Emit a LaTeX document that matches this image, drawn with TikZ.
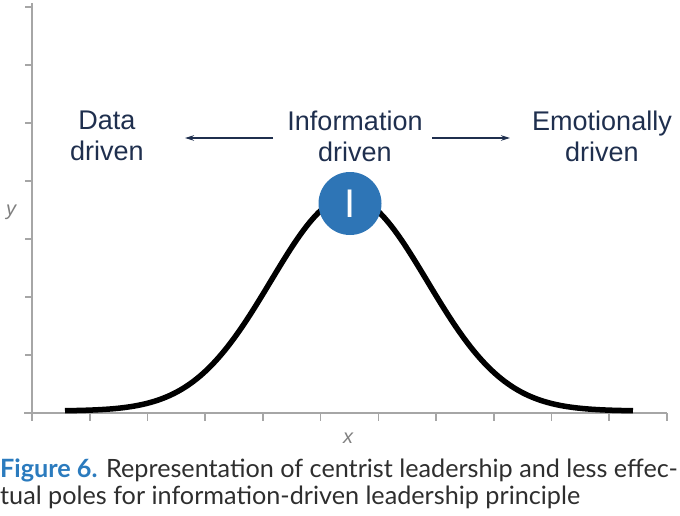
\documentclass[tikz,border=0pt]{standalone}
\usepackage{fontspec}
\setmainfont{Liberation Sans}
\newfontfamily\capfont{Lato}
\usetikzlibrary{arrows.meta}
\definecolor{navy}{HTML}{1F2F4E}
\definecolor{axisgray}{HTML}{A6A6A6}
\definecolor{labgray}{HTML}{7F7F7F}
\definecolor{dotblue}{HTML}{2E75B6}
\definecolor{capblue}{HTML}{2B7BBE}
\definecolor{captext}{HTML}{2E2E2E}
\tikzset{
  axisline/.style={draw=axisgray, line width=2pt},
  tickline/.style={draw=axisgray, line width=1.6pt},
  poletext/.style={text=navy, align=center, inner sep=0pt, font=\fontsize{27}{31}\selectfont},
  polearrow/.style={draw=navy, line width=2pt, -{Stealth[length=9pt,width=5.5pt]}},
  axislabel/.style={text=labgray, inner sep=0pt, font=\fontsize{20}{22}\selectfont\itshape},
  captionline/.style={anchor=west, inner sep=0pt, text=captext, font=\capfont\fontsize{25.2}{27}\selectfont},
}
\begin{document}
\begin{tikzpicture}[x=1pt,y=-1pt]
\useasboundingbox (0,0) rectangle (680,516);
% axes
\coordinate (o) at (32,413);
\coordinate (ytop) at (32,3);
\coordinate (xend) at (667,413);
\coordinate (xstart) at (24,413);
\draw[axisline] (ytop) -- (o);
\draw[axisline] (xstart) -- (xend);
\foreach \i in {0,...,11}
  \draw[tickline] ({32+57.727*\i},413) -- ({32+57.727*\i},421);
\foreach \j in {1,...,7}
  \draw[tickline] (25,{413-58*\j}) -- (32,{413-58*\j});
\node[axislabel] (ylab) at (11,212) {y};
\node[axislabel] (xlab) at (348,438) {x};
% curve
\draw[line width=5.5pt, line cap=butt, black]
  plot[domain=-2.84:2.84, samples=120, smooth] ({349+100*\x},{411-214*exp(-\x*\x/1.225)});
% circle
\node[circle, fill=dotblue, minimum size=63pt, inner sep=0pt, text=white,
      font=\fontsize{40}{40}\selectfont] (dot) at (350,203.5) {I};
% texts
\node[poletext] (data) at (107,136) {Data\\driven};
\node[poletext] (info) at (355,136) {Information\\driven};
\node[poletext] (emo) at (602,136) {Emotionally\\driven};
\coordinate (la1) at (273,138);
\coordinate (la2) at (185,138);
\coordinate (ra1) at (432,138);
\coordinate (ra2) at (510,138);
\draw[polearrow] (la1) -- (la2);
\draw[polearrow] (ra1) -- (ra2);
% caption
\node[captionline] (cap1) at (0,470)
  {\textcolor{capblue}{\bfseries Figure 6.} Representation of centrist leadership and less effec-};
\node[captionline] (cap2) at (0,497)
  {tual poles for information-driven leadership principle};
\end{tikzpicture}
\end{document}
